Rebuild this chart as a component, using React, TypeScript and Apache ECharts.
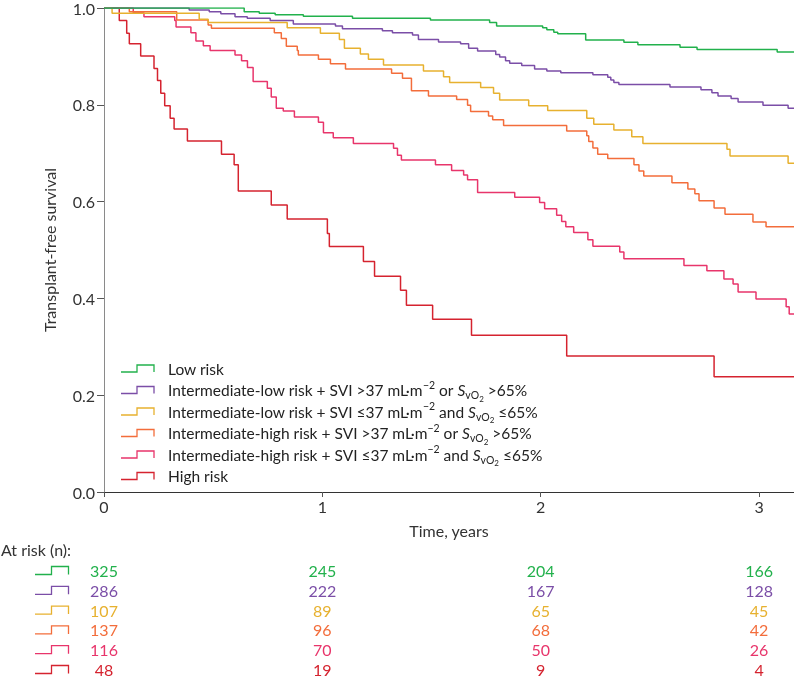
import React, { useEffect, useRef } from "react";
import * as echarts from "echarts";

// ---------- data ----------
const xTicks = [0, 1, 2, 3];
const xMax = 3.16;

// Kaplan–Meier steps: [time (years), survival after the drop]
const lowRisk = [
  [0.642, 0.992], [0.711, 0.989], [0.784, 0.986], [0.913, 0.983], [1.138, 0.979],
  [1.495, 0.975], [1.766, 0.970], [1.798, 0.963], [2.009, 0.959], [2.028, 0.955],
  [2.060, 0.950], [2.078, 0.947], [2.206, 0.934], [2.381, 0.929], [2.445, 0.924],
  [2.638, 0.919], [2.716, 0.914], [3.083, 0.909],
];
const intLowHighSvi = [
  [0.390, 0.996], [0.482, 0.992], [0.535, 0.988], [0.600, 0.982], [0.656, 0.979],
  [0.761, 0.974], [0.867, 0.967], [1.060, 0.963], [1.092, 0.957], [1.275, 0.953],
  [1.321, 0.949], [1.413, 0.944], [1.440, 0.935], [1.532, 0.930], [1.633, 0.926],
  [1.670, 0.917], [1.711, 0.911], [1.794, 0.904], [1.812, 0.899], [1.839, 0.891],
  [1.858, 0.886], [1.913, 0.881], [1.972, 0.874], [2.028, 0.870], [2.092, 0.866],
  [2.239, 0.862], [2.307, 0.857], [2.321, 0.851], [2.335, 0.846], [2.358, 0.842],
  [2.592, 0.837], [2.734, 0.831], [2.784, 0.825], [2.812, 0.818], [2.872, 0.813],
  [2.904, 0.806], [3.018, 0.799], [3.133, 0.793],
];
const intLowLowSvi = [
  [0.037, 0.989], [0.436, 0.977], [0.477, 0.970], [0.839, 0.959], [0.991, 0.948],
  [1.078, 0.935], [1.101, 0.917], [1.174, 0.905], [1.211, 0.894], [1.280, 0.882],
  [1.463, 0.870], [1.555, 0.858], [1.583, 0.846], [1.725, 0.836], [1.784, 0.824],
  [1.812, 0.810], [1.945, 0.798], [2.032, 0.788], [2.211, 0.772], [2.243, 0.760],
  [2.335, 0.748], [2.417, 0.734], [2.468, 0.720], [2.853, 0.708], [2.867, 0.694],
  [3.133, 0.679],
];
const intHighHighSvi = [
  [0.116, 0.992], [0.333, 0.975], [0.477, 0.965], [0.492, 0.958], [0.780, 0.949],
  [0.812, 0.937], [0.835, 0.921], [0.885, 0.912], [0.890, 0.903], [0.982, 0.894],
  [1.037, 0.885], [1.106, 0.874], [1.317, 0.865], [1.367, 0.855], [1.408, 0.829],
  [1.486, 0.818], [1.615, 0.811], [1.665, 0.799], [1.679, 0.786], [1.761, 0.777],
  [1.780, 0.769], [1.830, 0.757], [2.119, 0.746], [2.211, 0.736], [2.220, 0.724],
  [2.239, 0.711], [2.261, 0.698], [2.307, 0.689], [2.427, 0.676], [2.450, 0.663],
  [2.472, 0.653], [2.601, 0.639], [2.674, 0.626], [2.706, 0.616], [2.725, 0.602],
  [2.794, 0.587], [2.844, 0.574], [2.972, 0.558], [3.032, 0.548],
];
const intHighLowSvi = [
  [0.134, 0.990], [0.183, 0.982], [0.324, 0.974], [0.330, 0.961], [0.398, 0.949],
  [0.421, 0.932], [0.455, 0.922], [0.486, 0.912], [0.600, 0.903], [0.630, 0.891],
  [0.657, 0.877], [0.683, 0.848], [0.748, 0.834], [0.766, 0.816], [0.789, 0.793],
  [0.821, 0.787], [0.872, 0.775], [0.982, 0.764], [1.005, 0.742], [1.050, 0.732],
  [1.142, 0.720], [1.326, 0.710], [1.344, 0.696], [1.362, 0.686], [1.518, 0.676],
  [1.592, 0.664], [1.647, 0.655], [1.665, 0.645], [1.711, 0.619], [1.881, 0.609],
  [1.995, 0.598], [2.018, 0.585], [2.073, 0.572], [2.096, 0.559], [2.115, 0.548],
  [2.151, 0.536], [2.216, 0.521], [2.239, 0.508], [2.362, 0.496], [2.381, 0.482],
  [2.656, 0.468], [2.761, 0.457], [2.839, 0.440], [2.881, 0.430], [2.904, 0.413],
  [2.986, 0.399], [3.124, 0.383], [3.138, 0.368],
];
const highRisk = [
  [0.070, 0.974], [0.104, 0.948], [0.116, 0.926], [0.168, 0.901], [0.229, 0.875],
  [0.245, 0.850], [0.260, 0.824], [0.278, 0.798], [0.303, 0.772], [0.321, 0.750],
  [0.382, 0.725], [0.538, 0.698], [0.596, 0.676], [0.615, 0.622], [0.766, 0.593],
  [0.839, 0.564], [1.023, 0.534], [1.032, 0.507], [1.188, 0.476], [1.239, 0.446],
  [1.358, 0.417], [1.385, 0.386], [1.505, 0.357], [1.683, 0.324], [2.119, 0.281],
  [2.794, 0.238],
];

const atRiskLow = [325, 245, 204, 166];
const atRiskIntLowHighSvi = [286, 222, 167, 128];
const atRiskIntLowLowSvi = [107, 89, 65, 45];
const atRiskIntHighHighSvi = [137, 96, 68, 42];
const atRiskIntHighLowSvi = [116, 70, 50, 26];
const atRiskHigh = [48, 19, 9, 4];

const seriesNames = [
  "Low risk",
  "Intermediate-low risk + SVI >37 mL·m−2 or SvO2 >65%",
  "Intermediate-low risk + SVI ≤37 mL·m−2 and SvO2 ≤65%",
  "Intermediate-high risk + SVI >37 mL·m−2 or SvO2 >65%",
  "Intermediate-high risk + SVI ≤37 mL·m−2 and SvO2 ≤65%",
  "High risk",
];
const legendRich = [
  "Low risk",
  "Intermediate-low risk + SVI >37 mL·m{sup|−2} or {it|S}{sub|vO}{sub2|2} >65%",
  "Intermediate-low risk + SVI ≤37 mL·m{sup|−2} and {it|S}{sub|vO}{sub2|2} ≤65%",
  "Intermediate-high risk + SVI >37 mL·m{sup|−2} or {it|S}{sub|vO}{sub2|2} >65%",
  "Intermediate-high risk + SVI ≤37 mL·m{sup|−2} and {it|S}{sub|vO}{sub2|2} ≤65%",
  "High risk",
];
const curves = [lowRisk, intLowHighSvi, intLowLowSvi, intHighHighSvi, intHighLowSvi, highRisk];
const atRisk = [atRiskLow, atRiskIntLowHighSvi, atRiskIntLowLowSvi, atRiskIntHighHighSvi, atRiskIntHighLowSvi, atRiskHigh];
const colors = ["#22b14c", "#7b4ea7", "#e7b12f", "#f36d3b", "#e8356b", "#d5232f"];

const FONT = "Lato, 'Noto Sans', sans-serif";

export default function App() {
  const ref = useRef<HTMLDivElement>(null);
  useEffect(() => {
    if (!ref.current) return;
    const chart = echarts.init(ref.current, undefined, { renderer: "svg" });
    const series = curves.map((c, i) => {
      const last = c[c.length - 1][1];
      return {
        name: seriesNames[i],
        type: "line",
        step: "end",
        showSymbol: false,
        symbol: "none",
        lineStyle: { color: colors[i], width: 1.5 },
        itemStyle: { color: colors[i] },
        data: [[0, 1], ...c, [xMax, last]],
        z: 10 - i,
      };
    });
    chart.setOption({
      animation: false,
      textStyle: { fontFamily: FONT },
      grid: { left: 104, right: 0, top: 8, bottom: 187, containLabel: false },
      xAxis: {
        type: "value",
        min: 0,
        max: xMax,
        interval: 1,
        name: "Time, years",
        nameLocation: "middle",
        nameGap: 30,
        nameTextStyle: { fontSize: 16, color: "#333", fontFamily: FONT },
        axisLine: { lineStyle: { color: "#333", width: 1 } },
        axisTick: { show: true, length: 5, customValues: xTicks, lineStyle: { color: "#555" } },
        axisLabel: { customValues: xTicks, fontSize: 16, color: "#333", margin: 6, fontFamily: FONT },
        splitLine: { show: false },
      },
      yAxis: {
        type: "value",
        min: 0,
        max: 1,
        interval: 0.2,
        name: "Transplant-free survival",
        nameLocation: "middle",
        nameGap: 47,
        nameTextStyle: { fontSize: 16, color: "#333", fontFamily: FONT },
        axisLine: { show: true, lineStyle: { color: "#8a8a8a", width: 1 } },
        axisTick: { show: true, length: 7, lineStyle: { color: "#555" } },
        axisLabel: { fontSize: 16, color: "#333", margin: 9, fontFamily: FONT, formatter: (v: number) => v.toFixed(1) },
        splitLine: { show: false },
      },
      series,
    });

    const graphics: any[] = [];
    // legend
    const legY0 = 368.5;
    const legDy = 21.5;
    seriesNames.forEach((_, i) => {
      const y = legY0 + i * legDy;
      graphics.push({
        type: "polyline",
        shape: { points: [[121, y + 3.5], [137, y + 3.5], [137, y - 3.5], [154, y - 3.5], [154, y + 3.5]] },
        style: { stroke: colors[i], lineWidth: 1.3, fill: null },
      });
      graphics.push({
        type: "text",
        x: 168,
        y,
        style: {
          text: legendRich[i],
          fontSize: 15.5,
          fontFamily: FONT,
          fill: "#222",
          verticalAlign: "middle",
          align: "left",
          lineHeight: 20,
          rich: {
            sup: { fontSize: 10.5, height: 9, verticalAlign: "top", fontFamily: FONT, fill: "#222" },
            it: { fontSize: 15.5, fontStyle: "italic", fontFamily: FONT, fill: "#222" },
            sub: { fontSize: 10.5, height: 10, verticalAlign: "bottom", fontFamily: FONT, fill: "#222" },
            sub2: { fontSize: 8, height: 3, verticalAlign: "bottom", fontFamily: FONT, fill: "#222" },
          },
        },
      });
    });
    // at risk table
    graphics.push({
      type: "text",
      x: 1,
      y: 549,
      style: { text: "At risk (n):", fontSize: 16, fontFamily: FONT, fill: "#333", verticalAlign: "middle" },
    });
    const rowY0 = 570.5;
    const rowDy = 19.8;
    atRisk.forEach((row, i) => {
      const y = rowY0 + i * rowDy;
      graphics.push({
        type: "polyline",
        shape: { points: [[35, y + 4], [51.5, y + 4], [51.5, y - 4], [68.5, y - 4], [68.5, y + 4]] },
        style: { stroke: colors[i], lineWidth: 1.3, fill: null },
      });
      row.forEach((n, j) => {
        const px = chart.convertToPixel({ gridIndex: 0 }, [xTicks[j], 0]) as number[];
        graphics.push({
          type: "text",
          x: px[0],
          y,
          style: { text: String(n), fontSize: 16, fontFamily: FONT, fill: colors[i], align: "center", verticalAlign: "middle" },
        });
      });
    });
    chart.setOption({ graphic: graphics });
    return () => chart.dispose();
  }, []);
  return <div ref={ref} style={{ position: "fixed", left: 0, top: 0, width: 794, height: 679 }} />;
}
